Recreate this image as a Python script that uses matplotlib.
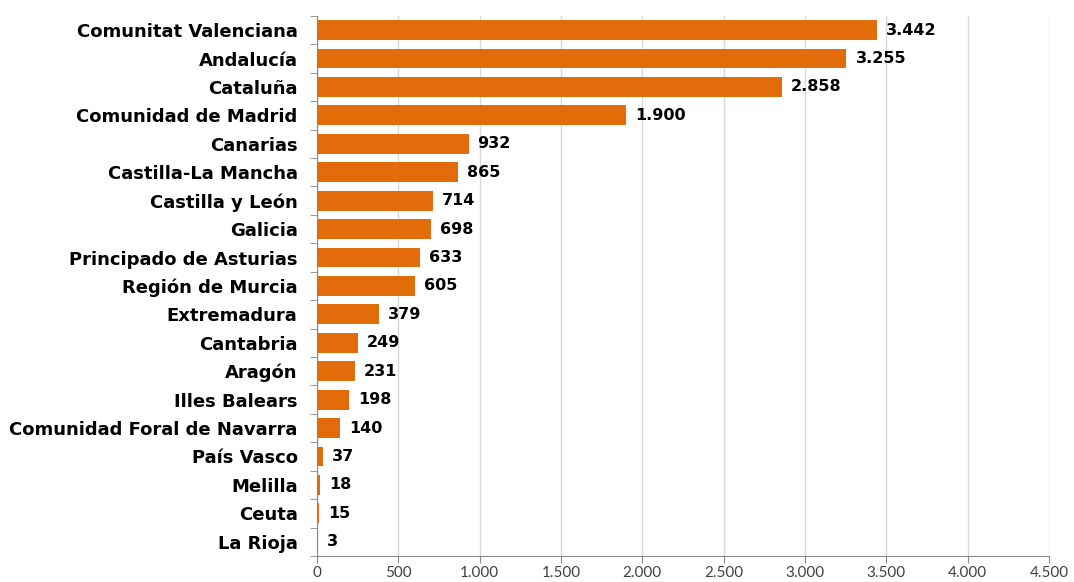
import numpy as np
import matplotlib.pyplot as plt
from matplotlib.ticker import FuncFormatter, FixedLocator

regions = ['Comunitat Valenciana', 'Andalucía', 'Cataluña', 'Comunidad de Madrid',
           'Canarias', 'Castilla-La Mancha', 'Castilla y León', 'Galicia',
           'Principado de Asturias', 'Región de Murcia', 'Extremadura', 'Cantabria',
           'Aragón', 'Illes Balears', 'Comunidad Foral de Navarra', 'País Vasco',
           'Melilla', 'Ceuta', 'La Rioja']
values = [3442, 3255, 2858, 1900, 932, 865, 714, 698, 633, 605, 379, 249,
          231, 198, 140, 37, 18, 15, 3]

plt.rcParams['font.family'] = ['Lato', 'DejaVu Sans']

def miles(v):
    return f'{int(v):,}'.replace(',', '.')

fig = plt.figure(figsize=(10.74, 5.82), dpi=100)
ax = fig.add_axes([0.2952, 0.0447, 0.6815, 0.928])

y = np.arange(len(regions))
ax.barh(y, values, height=0.7, color='#E36C0A', zorder=3)
for yi, v in zip(y, values):
    ax.text(v + 55, yi, miles(v), va='center', ha='left', fontsize=11.5,
            fontweight='bold', color='black', family='DejaVu Sans', zorder=4)

ax.set_xlim(0, 4500)
ax.set_ylim(len(regions) - 0.5, -0.5)
ax.set_xticks(np.arange(0, 4501, 500))
ax.xaxis.set_major_formatter(FuncFormatter(lambda v, p: miles(v)))
ax.set_yticks(y)
ax.set_yticklabels(regions, fontsize=13, fontweight='bold', family='DejaVu Sans')
ax.yaxis.set_minor_locator(FixedLocator(np.arange(-0.5, len(regions), 1)))
ax.tick_params(axis='y', which='major', length=0, pad=14)
ax.tick_params(axis='y', which='minor', length=5, color='#888888')
ax.tick_params(axis='x', length=5, color='#888888', labelsize=11,
               labelcolor='#404040', pad=2.5)

ax.grid(axis='x', color='#d9d9d9', linewidth=1, zorder=0)
for s in ['top', 'right']:
    ax.spines[s].set_visible(False)
for s in ['left', 'bottom']:
    ax.spines[s].set_color('#888888')

fig.savefig('out.png', dpi=100)
